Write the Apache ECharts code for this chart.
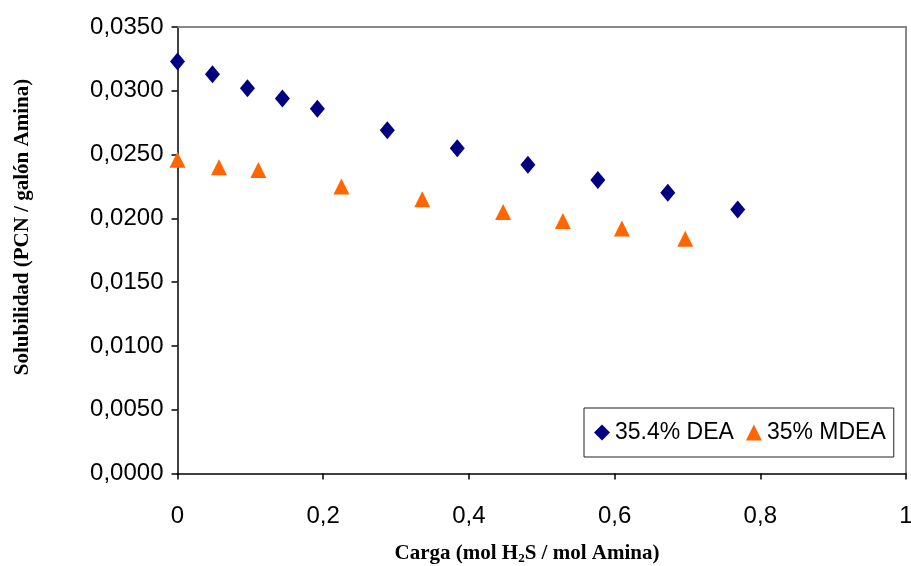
<!DOCTYPE html>
<html>
<head>
<meta charset="utf-8">
<script src="https://cdn.jsdelivr.net/npm/echarts@6/dist/echarts.min.js"></script>
<style>html,body{margin:0;padding:0;background:#fff;}#c{width:911px;height:566px;}</style>
</head>
<body>
<div id="c"></div>
<script>
var deaX = [0, 0.048, 0.096, 0.144, 0.192, 0.288, 0.384, 0.481, 0.577, 0.673, 0.769];
var deaY = [0.0323, 0.0313, 0.0302, 0.0294, 0.0286, 0.0269, 0.0255, 0.0242, 0.0230, 0.0220, 0.0207];
var mdeaX = [0, 0.057, 0.111, 0.225, 0.336, 0.447, 0.529, 0.610, 0.697];
var mdeaY = [0.0246, 0.0240, 0.0238, 0.0225, 0.0215, 0.0205, 0.0198, 0.0192, 0.0184];
var seriesNames = ['35.4% DEA', '35% MDEA'];
var yTitle = 'Solubilidad (PCN / galón Amina)';
var xTitleParts = ['Carga (mol H', '2', 'S / mol Amina)'];

function pairs(xs, ys) { return xs.map(function (x, i) { return [x, ys[i]]; }); }

var chart = echarts.init(document.getElementById('c'), null, {renderer: 'canvas'});
var labelFont = {fontFamily: 'Liberation Sans, Arial, sans-serif', fontSize: 24, color: '#000'};

chart.setOption({
  backgroundColor: '#fff',
  animation: false,
  grid: {left: 177.5, right: 5, top: 27, bottom: 92.5, containLabel: false, outerBoundsMode: 'none'},
  xAxis: [{
    type: 'value', min: 0, max: 1, interval: 0.2,
    axisLine: {show: true, onZero: false, lineStyle: {color: '#000', width: 1.5}},
    axisTick: {show: true, length: 6, lineStyle: {color: '#000', width: 1.5}},
    splitLine: {show: false},
    axisLabel: Object.assign({margin: 31, formatter: function (v) { return String(+v.toFixed(1)).replace('.', ','); }}, labelFont)
  }, {
    type: 'value', min: 0, max: 1, position: 'top',
    axisLine: {show: true, onZero: false, lineStyle: {color: '#888', width: 2}},
    axisTick: {show: false}, axisLabel: {show: false}, splitLine: {show: false}
  }],
  yAxis: [{
    type: 'value', min: 0, max: 0.035, interval: 0.005,
    axisLine: {show: true, onZero: false, lineStyle: {color: '#000', width: 1.5}},
    axisTick: {show: true, length: 6, lineStyle: {color: '#000', width: 1.5}},
    splitLine: {show: false},
    axisLabel: Object.assign({margin: 14, formatter: function (v) { return v.toFixed(4).replace('.', ','); }}, labelFont)
  }, {
    type: 'value', min: 0, max: 0.035, position: 'right',
    axisLine: {show: true, onZero: false, lineStyle: {color: '#888', width: 2}},
    axisTick: {show: false}, axisLabel: {show: false}, splitLine: {show: false}
  }],
  legend: {
    left: 584, top: 408, width: 313, height: 54,
    orient: 'horizontal',
    backgroundColor: '#fff', borderColor: '#222', borderWidth: 1,
    padding: [13, 8, 13, 10],
    itemGap: 12, itemWidth: 16, itemHeight: 16,
    textStyle: {fontFamily: 'Liberation Sans, Arial, sans-serif', fontSize: 23, color: '#000'},
    data: [{name: seriesNames[0], icon: 'diamond'}, {name: seriesNames[1], icon: 'triangle'}]
  },
  series: [{
    name: seriesNames[0], type: 'scatter', symbol: 'diamond', symbolSize: [15, 18],
    itemStyle: {color: '#000080', opacity: 1}, data: pairs(deaX, deaY)
  }, {
    name: seriesNames[1], type: 'scatter', symbol: 'triangle', symbolSize: [16, 16],
    itemStyle: {color: '#FF6600', opacity: 1}, data: pairs(mdeaX, mdeaY)
  }],
  graphic: [{
    type: 'text',
    x: 23, y: 227, rotation: Math.PI / 2,
    style: {text: yTitle, textAlign: 'center', textVerticalAlign: 'middle', fill: '#000',
      font: 'bold 21px "Liberation Serif", serif'}
  }, {
    type: 'text',
    x: 527, y: 552,
    style: {
      text: '{b|' + xTitleParts[0] + '}{s|' + xTitleParts[1] + '}{b|' + xTitleParts[2] + '}',
      textAlign: 'center', textVerticalAlign: 'middle',
      rich: {
        b: {font: 'bold 21px "Liberation Serif", serif', fill: '#000', verticalAlign: 'bottom', lineHeight: 24},
        s: {font: 'bold 13px "Liberation Serif", serif', fill: '#000', verticalAlign: 'bottom', lineHeight: 24, padding: [0, 0, -1, 0]}
      }
    }
  }]
});
</script>
</body>
</html>
